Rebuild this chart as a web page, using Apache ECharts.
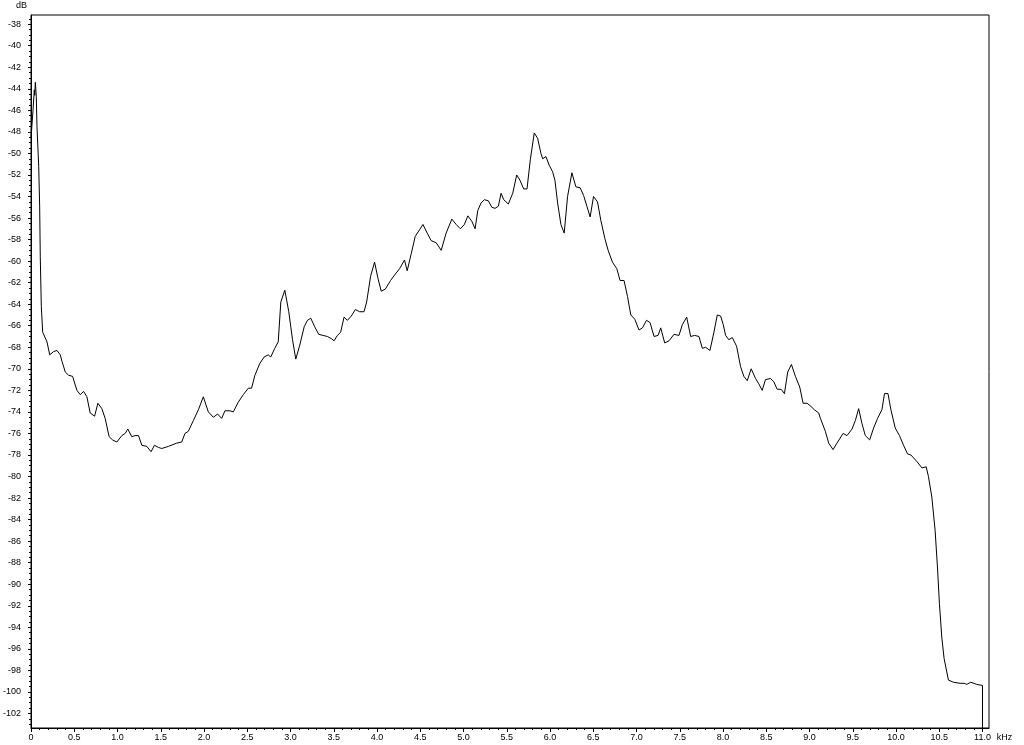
<!DOCTYPE html>
<html>
<head>
<meta charset="utf-8">
<script src="https://cdn.jsdelivr.net/npm/echarts@6/dist/echarts.min.js"></script>
<style>
html,body{margin:0;padding:0;background:#fff;}
#chart{width:1024px;height:745px;}
</style>
</head>
<body>
<div id="chart"></div>
<script>
// Frequency (kHz)
const freqs = [
0.000,0.023,0.038,0.043,0.050,0.061,0.069,0.089,0.100,0.107,0.119,0.135,0.185,0.216,0.262,0.300,0.338,0.358,0.396,0.435,
0.481,0.511,0.531,0.569,0.608,0.646,0.684,0.735,0.773,0.819,0.857,0.903,0.943,0.992,1.050,1.088,1.119,1.165,1.203,1.243,
1.281,1.338,1.388,1.427,1.473,1.511,1.589,1.684,1.742,1.780,1.819,1.877,1.935,1.992,2.050,2.108,2.157,2.204,2.242,2.299,
2.339,2.396,2.454,2.512,2.550,2.588,2.645,2.696,2.742,2.772,2.818,2.858,2.888,2.934,2.980,3.023,3.061,3.107,3.158,3.196,
3.234,3.280,3.326,3.377,3.426,3.473,3.504,3.542,3.580,3.619,3.657,3.703,3.749,3.799,3.850,3.880,3.926,3.972,4.011,4.049,
4.096,4.157,4.203,4.261,4.318,4.349,4.396,4.442,4.491,4.531,4.580,4.626,4.684,4.742,4.799,4.865,4.915,4.964,5.010,5.050,
5.096,5.134,5.165,5.203,5.241,5.287,5.327,5.365,5.403,5.434,5.465,5.518,5.569,5.615,5.653,5.696,5.734,5.772,5.818,5.857,
5.895,5.915,5.953,5.991,6.030,6.057,6.088,6.126,6.164,6.203,6.253,6.299,6.349,6.388,6.426,6.464,6.503,6.549,6.587,6.634,
6.672,6.722,6.772,6.810,6.856,6.896,6.934,6.980,7.029,7.069,7.115,7.156,7.203,7.249,7.280,7.326,7.376,7.433,7.491,7.530,
7.580,7.626,7.672,7.722,7.761,7.799,7.849,7.895,7.934,7.972,8.003,8.030,8.068,8.107,8.157,8.203,8.241,8.280,8.326,8.376,
8.414,8.453,8.491,8.549,8.587,8.626,8.672,8.710,8.748,8.791,8.837,8.887,8.926,8.972,9.018,9.056,9.106,9.126,9.183,9.222,
9.272,9.325,9.388,9.434,9.491,9.530,9.568,9.607,9.645,9.695,9.741,9.787,9.837,9.867,9.907,9.941,9.991,10.040,10.087,10.133,
10.172,10.241,10.299,10.349,10.375,10.414,10.452,10.479,10.502,10.529,10.556,10.606,10.664,10.741,10.787,10.818,10.864,10.933,11.000,11.000
];
// Level (dB)
const levels = [
-48.6,-46.0,-44.1,-44.6,-43.4,-44.7,-47.5,-51.2,-54.9,-59.6,-64.2,-66.6,-67.5,-68.7,-68.4,-68.3,-68.7,-69.3,-70.3,-70.6,
-70.7,-71.5,-72.0,-72.4,-72.1,-72.6,-74.1,-74.4,-73.2,-73.7,-74.6,-76.3,-76.6,-76.8,-76.2,-76.0,-75.6,-76.3,-76.2,-76.2,
-77.1,-77.2,-77.7,-77.1,-77.3,-77.4,-77.2,-76.9,-76.8,-76.0,-75.8,-74.8,-73.8,-72.6,-74.0,-74.5,-74.2,-74.6,-73.9,-73.9,
-74.0,-73.1,-72.4,-71.8,-71.8,-70.6,-69.5,-68.9,-68.7,-68.9,-68.1,-67.5,-63.8,-62.7,-64.7,-67.3,-69.1,-67.8,-66.1,-65.5,
-65.3,-66.1,-66.8,-66.9,-67.0,-67.2,-67.4,-66.9,-66.6,-65.2,-65.5,-65.1,-64.5,-64.7,-64.7,-63.8,-61.4,-60.1,-61.6,-62.8,
-62.6,-61.8,-61.3,-60.7,-59.9,-60.9,-59.3,-57.7,-57.1,-56.6,-57.4,-58.1,-58.3,-59.0,-57.4,-56.1,-56.6,-57.0,-56.6,-55.8,
-56.3,-57.0,-55.3,-54.6,-54.3,-54.4,-55.0,-55.1,-54.9,-53.7,-54.3,-54.7,-53.7,-52.0,-52.5,-53.3,-53.3,-50.6,-48.1,-48.6,
-50.0,-50.5,-50.3,-51.1,-51.7,-52.5,-54.6,-56.6,-57.4,-54.0,-51.8,-53.1,-53.2,-53.9,-54.9,-55.9,-54.0,-54.5,-56.2,-57.9,
-59.0,-60.1,-60.7,-61.8,-61.8,-63.3,-65.0,-65.4,-66.4,-66.2,-65.5,-65.7,-67.0,-66.9,-66.2,-67.6,-67.4,-66.8,-66.9,-65.9,
-65.2,-67.0,-66.9,-67.0,-68.1,-68.0,-68.3,-66.6,-65.0,-65.1,-65.9,-66.9,-67.3,-67.1,-67.9,-69.8,-70.7,-71.1,-70.0,-70.9,
-71.4,-72.0,-71.0,-70.9,-71.2,-71.9,-71.9,-72.3,-70.3,-69.6,-70.7,-71.7,-73.2,-73.2,-73.5,-73.8,-74.1,-74.6,-75.8,-76.9,
-77.5,-76.8,-76.0,-76.2,-75.6,-74.8,-73.7,-75.1,-76.2,-76.6,-75.5,-74.6,-73.8,-72.3,-72.3,-73.8,-75.5,-76.2,-77.1,-77.9,
-78.0,-78.6,-79.2,-79.1,-80.0,-81.9,-85.0,-88.4,-91.8,-94.9,-96.9,-98.9,-99.1,-99.2,-99.2,-99.3,-99.1,-99.3,-99.4,-103.35
];
// Tick labels
const xTickLabels = [0,0.5,1.0,1.5,2.0,2.5,3.0,3.5,4.0,4.5,5.0,5.5,6.0,6.5,7.0,7.5,8.0,8.5,9.0,9.5,10.0,10.5,11.0];
const yTickLabels = [-102,-100,-98,-96,-94,-92,-90,-88,-86,-84,-82,-80,-78,-76,-74,-72,-70,-68,-66,-64,-62,-60,-58,-56,-54,-52,-50,-48,-46,-44,-42,-40,-38];

const X_MIN = 0, X_MAX = 11.075;
const Y_MIN = -103.35, Y_MAX = -37.15;

const xMinor = [];
for (let i = 1; i <= 110; i++) { if (i % 5 !== 0) xMinor.push(+(i * 0.1).toFixed(2)); }
const yMinor = [];
for (let v = -103; v <= -37.5; v += 0.5) { if (v % 2 !== 0) yMinor.push(v); }

const font = { fontFamily: 'Liberation Sans, Arial, sans-serif', fontSize: 9, color: '#000' };

const chart = echarts.init(document.getElementById('chart'), null, { renderer: 'canvas' });
chart.setOption({
  animation: false,
  backgroundColor: '#fff',
  grid: { left: 29, right: 35, top: 15, bottom: 17, show: true, borderColor: '#000', borderWidth: 1, backgroundColor: '#fff' },
  xAxis: [
    {
      type: 'value', min: X_MIN, max: X_MAX, position: 'bottom',
      axisLine: { show: true, onZero: false, lineStyle: { color: '#000', width: 1 } },
      axisTick: { show: true, length: 4, customValues: xTickLabels, lineStyle: { color: '#000' } },
      axisLabel: { show: true, margin: 5, customValues: xTickLabels, ...font,
        formatter: v => (v === 0 ? '0' : v.toFixed(1)) },
      splitLine: { show: false },
      name: 'kHz', nameLocation: 'end', nameGap: 2,
      nameTextStyle: { ...font, verticalAlign: 'top', align: 'left', padding: [5, 0, 0, 0] }
    },
    {
      type: 'value', min: X_MIN, max: X_MAX, position: 'bottom',
      axisLine: { show: false },
      axisTick: { show: true, length: 2, customValues: xMinor, lineStyle: { color: '#000' } },
      axisLabel: { show: false },
      splitLine: { show: false }
    }
  ],
  yAxis: [
    {
      type: 'value', min: Y_MIN, max: Y_MAX, position: 'left',
      axisLine: { show: true, onZero: false, lineStyle: { color: '#000', width: 1 } },
      axisTick: { show: true, length: 3, customValues: yTickLabels, lineStyle: { color: '#000' } },
      axisLabel: { show: true, margin: 10, customValues: yTickLabels, ...font, formatter: v => String(v) },
      splitLine: { show: false },
      name: 'dB', nameLocation: 'end', nameGap: 5,
      nameTextStyle: { ...font, align: 'right', padding: [0, 4, 0, 0] }
    },
    {
      type: 'value', min: Y_MIN, max: Y_MAX, position: 'left',
      axisLine: { show: false },
      axisTick: { show: true, length: 2, customValues: yMinor, lineStyle: { color: '#000' } },
      axisLabel: { show: false },
      splitLine: { show: false }
    }
  ],
  series: [{
    type: 'line',
    xAxisIndex: 0, yAxisIndex: 0,
    data: freqs.map((f, i) => [f, levels[i]]),
    showSymbol: false, symbol: 'none',
    lineStyle: { color: '#000', width: 1 },
    clip: true
  }]
});
</script>
</body>
</html>
